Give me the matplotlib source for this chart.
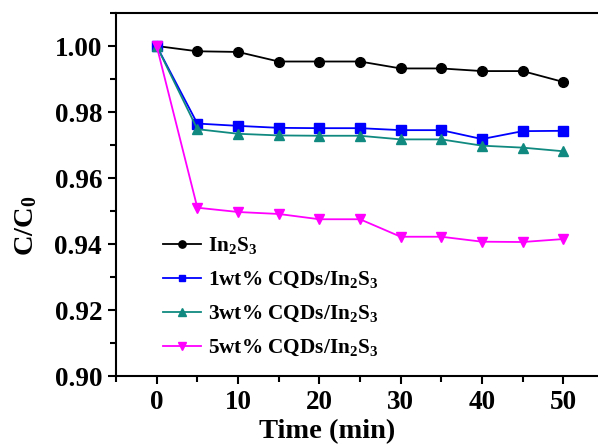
import matplotlib
matplotlib.use("Agg")
import matplotlib.pyplot as plt
from matplotlib.ticker import MultipleLocator

plt.rcParams['font.family'] = ['Liberation Serif', 'DejaVu Serif']
plt.rcParams['font.weight'] = 'bold'
plt.rcParams['mathtext.fontset'] = 'custom'
plt.rcParams['mathtext.rm'] = 'Liberation Serif:bold'
plt.rcParams['mathtext.it'] = 'Liberation Serif:italic:bold'
plt.rcParams['mathtext.bf'] = 'Liberation Serif:bold'
plt.rcParams['mathtext.default'] = 'rm'

time = [0, 5, 10, 15, 20, 25, 30, 35, 40, 45, 50]
in2s3 = [1.000, 0.9984, 0.9982, 0.9953, 0.9953, 0.9953, 0.9932, 0.9932, 0.9924, 0.9924, 0.9891]
cqd1 = [1.000, 0.9765, 0.9758, 0.9752, 0.9751, 0.9751, 0.9745, 0.9745, 0.9718, 0.9742, 0.9743]
cqd3 = [1.000, 0.9748, 0.9734, 0.9729, 0.9728, 0.9728, 0.9717, 0.9717, 0.9698, 0.9692, 0.9681]
cqd5 = [1.000, 0.9510, 0.9497, 0.9491, 0.9475, 0.9475, 0.9422, 0.9422, 0.9407, 0.9406, 0.9415]

labels = ['In$_2$S$_3$', '1wt% CQDs/In$_2$S$_3$', '3wt% CQDs/In$_2$S$_3$', '5wt% CQDs/In$_2$S$_3$']
xticks = [0, 10, 20, 30, 40, 50]
yticks = [0.90, 0.92, 0.94, 0.96, 0.98, 1.00]

fig = plt.figure(figsize=(5.98, 4.47), dpi=100)
ax = fig.add_axes([116/598, 71/447, 488/598, 363/447])

ax.plot(time, in2s3, color='black', marker='o', markersize=7, lw=1.3, label=labels[0])
ax.plot(time, cqd1, color='#0000FF', marker='s', markersize=6.5, lw=1.3, label=labels[1])
ax.plot(time, cqd3, color='#108A80', marker='^', markersize=7.5, lw=1.3, label=labels[2])
ax.plot(time, cqd5, color='#FF00FF', marker='v', markersize=7.5, lw=1.3, label=labels[3])

ax.set_xlim(-5, 55)
ax.set_ylim(0.90, 1.01)
ax.set_xticks(xticks)
ax.set_yticks(yticks)
ax.set_yticklabels([f'{v:.2f}' for v in yticks])
ax.xaxis.set_minor_locator(MultipleLocator(5))
ax.yaxis.set_minor_locator(MultipleLocator(0.01))
ax.tick_params(which='major', direction='out', length=6, width=1.5, labelsize=19.5, pad=4)
ax.tick_params(which='minor', direction='out', length=4, width=1.5)
for s in ax.spines.values():
    s.set_linewidth(1.5)

ax.set_xlabel('Time (min)', fontsize=20.5, fontweight='bold')
ax.xaxis.set_label_coords(0.432, -0.118)
ax.set_ylabel('C/C$_0$', fontsize=20.5, fontweight='bold')
ax.yaxis.set_label_coords(-0.158, 0.413)

leg = ax.legend(loc='lower left', bbox_to_anchor=(0.075, 0.02), frameon=False,
                fontsize=15.3, handlelength=1.8, handletextpad=0.3, labelspacing=0.65,
                markerscale=0.75, borderpad=0)

fig.savefig('out.png', dpi=100)
